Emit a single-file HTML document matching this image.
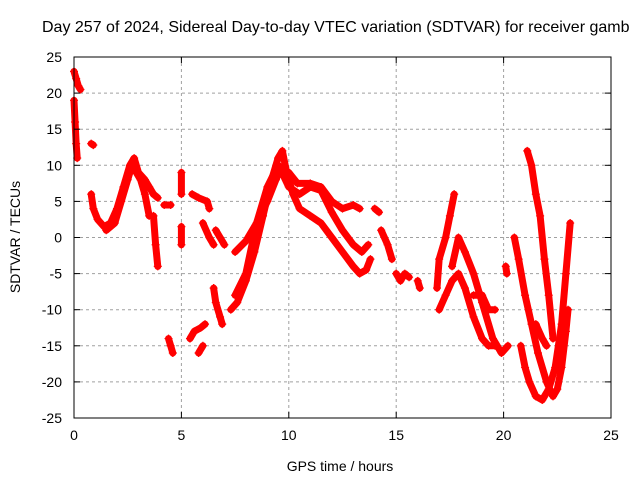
<!DOCTYPE html>
<html><head><meta charset="utf-8">
<style>
html,body{margin:0;padding:0;background:#fff;width:640px;height:480px;overflow:hidden;font-family:"Liberation Sans",sans-serif;}
svg text{font-family:"Liberation Sans",sans-serif;font-size:14px;fill:#000;}
</style></head>
<body>
<svg id="chart" width="640" height="480" xmlns="http://www.w3.org/2000/svg">
<text x="42" y="32" style="font-size:16px">Day 257 of 2024, Sidereal Day-to-day VTEC variation (SDTVAR) for receiver gamb</text>
<g id="grid"></g>
<g id="marks"></g>
<rect x="74" y="57" width="537" height="361" fill="none" stroke="#000" stroke-width="1"/>
<g id="axes"></g>
<text x="340" y="471" text-anchor="middle">GPS time / hours</text>
<text transform="translate(20,237) rotate(-90)" text-anchor="middle">SDTVAR / TECUs</text>
</svg>
<script>
const xTicks=[0,5,10,15,20,25];
const yTicks=[25,20,15,10,5,0,-5,-10,-15,-20,-25];
const trackXs=[
[0,0.1,0.2,0.3],
[0,0.05,0.1,0.15],
[0.8,0.9],
[0.8,0.9,1.1,1.4,1.7,2.0,2.3,2.6,2.8,3.0,3.3,3.5,3.7],
[1.5,1.9,2.2,2.5,2.7,2.9,3.1,3.3,3.5],
[3.7,3.9],
[4.2,4.5],
[3.7,3.8,3.9],
[4.4,4.5,4.6],
[5.0,5.0],[5.0,5.0],
[5.4,5.6,5.9,6.1],[5.8,6.0],
[5.5,5.8,6.2,6.3],[6.0,6.3,6.5],
[6.5,6.6,6.8,6.9],[6.6,6.8,7.0],
[7.3,7.6,8.0,8.4,8.8,9.2,9.5,9.7,9.9,10.2,10.5,11.0,11.5,12,12.5,13,13.3,13.6,13.8],
[7.5,8,8.5,9,9.4,9.6,10,10.5,11,11.5,12,12.5,13,13.4,13.7],
[7.5,8,8.5,9,9.5,10,10.4,11,11.5,12,12.5,13,13.3],
[14,14.2],[14.3,14.6,14.8],
[15,15.2,15.4,15.6],[16.0,16.1],
[16.9,17,17.3,17.5,17.7],
[17,17.3,17.6,17.9,18.2,18.6,19,19.3,19.6],
[17.6,17.9,18.2,18.6,19,19.5,19.9,20.2],
[18.6,19,19.3,19.6],[20.1,20.15],
[20.5,20.7,21,21.3,21.6,22,22.3,22.5,22.7,22.9,23],
[21.1,21.3,21.5,21.7,21.9,22.1,22.3],
[20.8,21,21.2,21.5,21.8,22.1,22.4,22.7,22.9,23.1],
[21.5,21.8,22]
];
const trackYs=[
[23,22,21,20.5],
[19,16,13,11],
[13,12.8],
[6,4,2.5,1.5,2,4,7,10,11,9,8,7,6],
[1,2,5,8,10,9,8,6,3],
[6,5.5],
[4.5,4.5],
[3,-1,-4],
[-14,-15,-16],
[9,6],[1.5,-1],
[-14,-13,-12.5,-12],[-16,-15],
[6,5.5,5,4],[2,0,-1],
[-7,-9,-11,-12],[1,0,-1],
[-10,-9,-6,-2,3,8,11,12,9,6,4,3,2,0,-2,-4,-5,-4.5,-3],
[-2,-0.5,2,5,8,9.5,7,6,7,6.5,3.5,1,-1,-2,-1],
[-8,-5,2,7,10,9,7.5,7.5,7,5,4,4.5,4],
[4,3.5],[1,-1,-3],
[-5,-6,-5,-5.5],[-6,-7],
[-7,-3,0,3,6],
[-10,-8,-6,-5,-7,-11,-14,-15,-15],
[-4,0,-2,-5,-9,-14,-16,-15],
[-8,-8,-10,-10],[-4,-5],
[0,-3,-8,-12,-16,-20,-22,-21,-18,-13,-10],
[12,10,6,3,-3,-8,-14],
[-15,-18,-20,-22,-22.5,-21,-18,-12,-5,2],
[-12,-14,-15]
];
const L=74,R=611,T=57,B=418;
const sx=v=>L+(v-0)/(25-0)*(R-L);
const sy=v=>B-(v+25)/50*(B-T);
const NS="http://www.w3.org/2000/svg";
const grid=document.getElementById('grid'),axes=document.getElementById('axes'),marks=document.getElementById('marks');
function mk(tag,attrs,parent){const e=document.createElementNS(NS,tag);for(const k in attrs)e.setAttribute(k,attrs[k]);parent.appendChild(e);return e;}
xTicks.forEach(t=>{
  const x=sx(t);
  if(t>0&&t<25){const g=mk('line',{x1:x,x2:x,y1:T,y2:B,stroke:'#a0a0a0','stroke-dasharray':'3,3'},grid);
  
  }
  mk('line',{x1:x,x2:x,y1:B,y2:B-6,stroke:'#000'},axes);
  mk('line',{x1:x,x2:x,y1:T,y2:T+6,stroke:'#000'},axes);
  const tx=mk('text',{x:x,y:B+22,'text-anchor':'middle'},axes);tx.textContent=t;
  
  
});
yTicks.forEach(t=>{
  const y=sy(t);
  if(t>-25&&t<25){const g=mk('line',{x1:L,x2:R,y1:y,y2:y,stroke:'#a0a0a0','stroke-dasharray':'3,3'},grid);
  
  }
  mk('line',{x1:L,x2:L+6,y1:y,y2:y,stroke:'#000'},axes);
  mk('line',{x1:R,x2:R-6,y1:y,y2:y,stroke:'#000'},axes);
  const tx=mk('text',{x:L-12,y:y+5,'text-anchor':'end'},axes);tx.textContent=t;
  
  
});
trackXs.forEach((xs,i)=>{
  const ys=trackYs[i];
  const pts=xs.map((x,j)=>sx(x)+','+sy(ys[j])).join(' ');
  const pl=mk('polyline',{points:pts,fill:'none',stroke:'#ff0000','stroke-width':7,'stroke-linejoin':'round','stroke-linecap':'round'},marks);
  
  
  xs.forEach((x,j)=>{
    const px=sx(x),py=sy(ys[j]);
    const p=mk('path',{d:`M${px-4},${py}H${px+4}M${px},${py-4}V${py+4}`,stroke:'#ff0000','stroke-width':1.2},marks);
    
    
  });
});
</script>
</body></html>
